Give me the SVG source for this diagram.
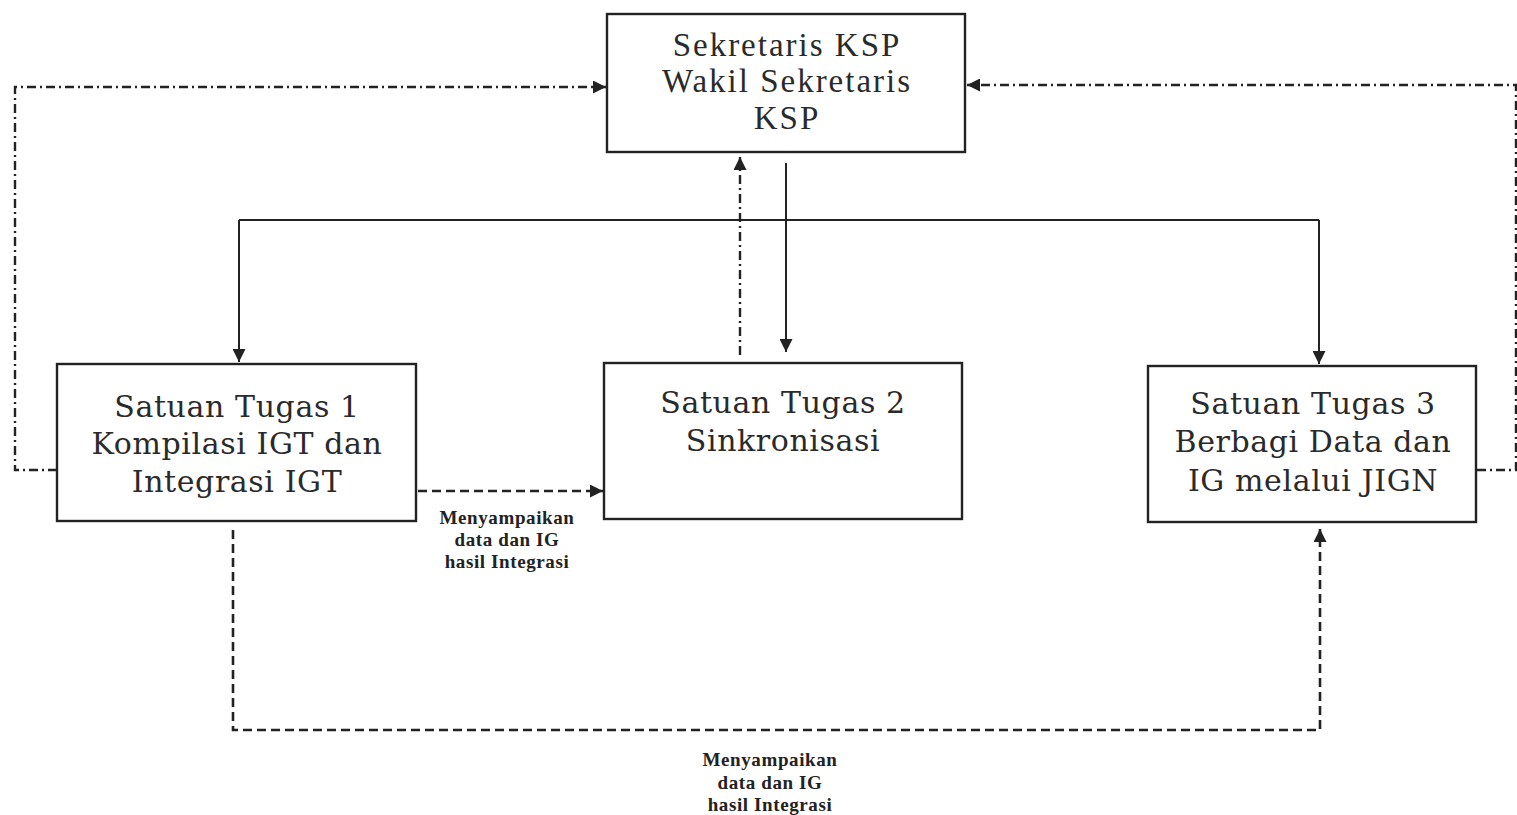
<svg xmlns="http://www.w3.org/2000/svg" width="1517" height="815" viewBox="0 0 1517 815">
<style>
.box{fill:#fff;stroke:#222;stroke-width:2.4}
.big{font-family:"DejaVu Serif","Liberation Serif",serif;font-size:30px;letter-spacing:0.6px;fill:#2a2a2a;text-anchor:middle}
.top{font-family:"Liberation Serif",serif;font-size:33px;letter-spacing:2px;fill:#2a2a2a;text-anchor:middle}
.lbl{font-family:"Liberation Serif",serif;font-size:19px;letter-spacing:0.6px;font-weight:bold;fill:#222;text-anchor:middle}
.solid{fill:none;stroke:#222;stroke-width:2}
.dd{fill:none;stroke:#222;stroke-width:2.4;stroke-dasharray:9 4 2 4}
.da{fill:none;stroke:#222;stroke-width:2.6;stroke-dasharray:9 5}
</style>
<defs>
<marker id="ah" viewBox="0 0 10 10" refX="10" refY="5" markerWidth="14" markerHeight="13" markerUnits="userSpaceOnUse" orient="auto">
<path d="M0,0 L10,5 L0,10 z" fill="#222"/>
</marker>
</defs>
<rect width="1517" height="815" fill="#fff"/>
<g id="connectors">
<path class="solid" d="M786,163 V352" marker-end="url(#ah)"/>
<path class="solid" d="M239,220 H1319"/>
<path class="solid" d="M239,220 V362" marker-end="url(#ah)"/>
<path class="solid" d="M1319,220 V364" marker-end="url(#ah)"/>
<path class="dd" d="M740,355 V157" marker-end="url(#ah)"/>
<path class="dd" d="M57,470 H15 V87 H606" marker-end="url(#ah)"/>
<path class="dd" d="M1477,470 H1516 V85 H967" marker-end="url(#ah)"/>
<path class="da" d="M418,491 H603" marker-end="url(#ah)"/>
<path class="da" d="M233,530 V730 H1320 V529" marker-end="url(#ah)"/>
</g>
<g id="top">
<rect class="box" x="607" y="14" width="358" height="138"/>
<text class="top" x="787" y="56">Sekretaris KSP</text>
<text class="top" x="787" y="92">Wakil Sekretaris</text>
<text class="top" x="787" y="129">KSP</text>
</g>
<g id="satgas1">
<rect class="box" x="57" y="364" width="359" height="157"/>
<text class="big" x="237" y="417">Satuan Tugas 1</text>
<text class="big" x="237" y="454">Kompilasi IGT dan</text>
<text class="big" x="237" y="492">Integrasi IGT</text>
</g>
<g id="satgas2">
<rect class="box" x="604" y="363" width="358" height="156"/>
<text class="big" x="783" y="413">Satuan Tugas 2</text>
<text class="big" x="783" y="451">Sinkronisasi</text>
</g>
<g id="satgas3">
<rect class="box" x="1148" y="366" width="328" height="156"/>
<text class="big" x="1313" y="414">Satuan Tugas 3</text>
<text class="big" x="1313" y="452">Berbagi Data dan</text>
<text class="big" x="1313" y="491">IG melalui JIGN</text>
</g>
<g id="label1">
<text class="lbl" x="507" y="524">Menyampaikan</text>
<text class="lbl" x="507" y="546">data dan IG</text>
<text class="lbl" x="507" y="568">hasil Integrasi</text>
</g>
<g id="label2">
<text class="lbl" x="770" y="766">Menyampaikan</text>
<text class="lbl" x="770" y="789">data dan IG</text>
<text class="lbl" x="770" y="811">hasil Integrasi</text>
</g>
</svg>
